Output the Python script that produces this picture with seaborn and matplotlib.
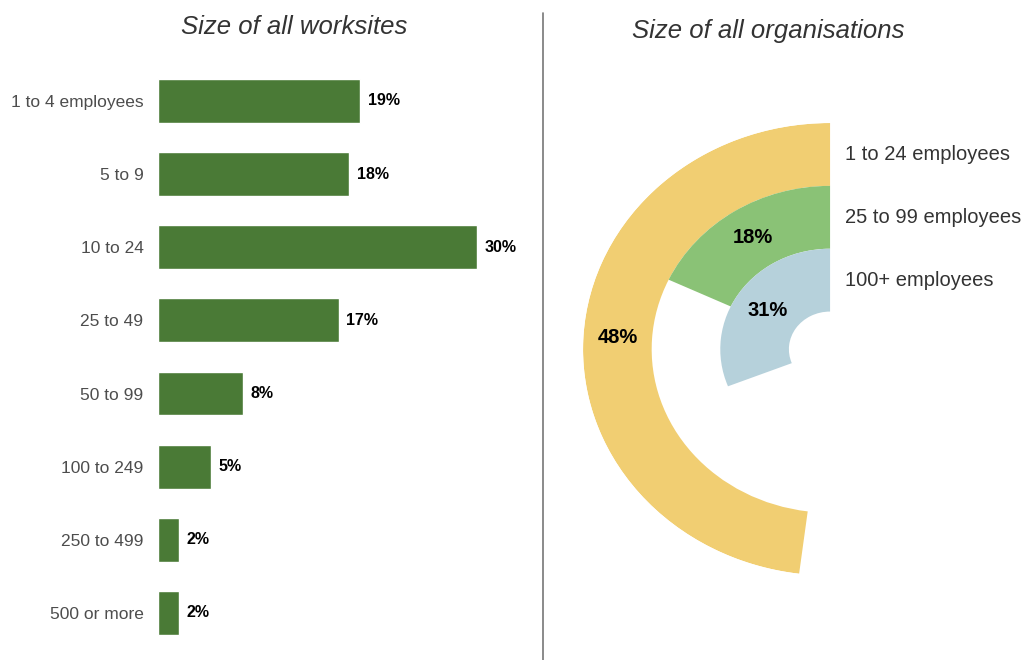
import numpy as np
import pandas as pd
import seaborn as sns
import matplotlib.pyplot as plt
from matplotlib.lines import Line2D

# Data
worksite_sizes = ['1 to 4 employees', '5 to 9', '10 to 24', '25 to 49',
                  '50 to 99', '100 to 249', '250 to 499', '500 or more']
worksite_pct = [19, 18, 30, 17, 8, 5, 2, 2]

org_sizes = ['1 to 24 employees', '25 to 99 employees', '100+ employees']
org_pct = [48, 18, 31]
org_colors = ['#F1CE72', '#8AC276', '#B6D1DB']

sns.set_style('white')
plt.rcParams['font.family'] = ['Liberation Sans', 'DejaVu Sans']

fig = plt.figure(figsize=(10.22, 6.6), dpi=100)

# Left: horizontal bars of worksite size
df_ws = pd.DataFrame({'size': worksite_sizes, 'pct': worksite_pct})
ax1 = fig.add_axes([0.1546, 0.0158, 0.3537, 0.8867])
sns.barplot(data=df_ws, x='pct', y='size', orient='h', color='#4A7A36',
            saturation=1, width=0.6, ax=ax1)
ax1.set_xlim(0, 34)
ax1.bar_label(ax1.containers[0], labels=[f'{v}%' for v in worksite_pct],
              padding=5.5, fontsize=11.5, fontweight='bold', color='black')
ax1.set_xlabel('')
ax1.set_ylabel('')
ax1.set_xticks([])
ax1.tick_params(axis='y', length=0, pad=10.5, labelsize=12.5, labelcolor='#4D4D4D')
sns.despine(ax=ax1, left=True, bottom=True)

# Right: radial bars of organisation size
ax2 = fig.add_axes([0.5705, 0.128, 0.4834, 0.6856], projection='polar')
ax2.set_aspect('auto')
ax2.set_theta_zero_location('N')
ax2.set_theta_direction(1)
hole = 0.6
n = len(org_pct)
for i, (lab, p, c) in enumerate(zip(org_sizes, org_pct, org_colors)):
    base = hole + (n - 1 - i)
    width = p / 100 * 2 * np.pi
    ax2.bar(0, 1, width=width, bottom=base, align='edge', color=c, linewidth=0)
    ax2.text(width / 2, base + 0.5, f'{p}%', ha='center', va='center',
             fontsize=14.5, fontweight='bold', color='black')
    ax2.annotate(lab, xy=(0, base + 0.5), xytext=(11, 0), textcoords='offset points',
                 ha='left', va='center', fontsize=14.5, color='#333333',
                 annotation_clip=False)
ax2.set_ylim(0, hole + n)
ax2.axis('off')

# Titles and divider
fig.text(294 / 1022, 1 - 27 / 660, 'Size of all worksites', ha='center', va='center',
         fontsize=18.5, style='italic', color='#333333')
fig.text(768 / 1022, 1 - 31 / 660, 'Size of all organisations', ha='center', va='center',
         fontsize=18.5, style='italic', color='#333333')
fig.add_artist(Line2D([543 / 1022, 543 / 1022], [0, 1 - 13 / 660],
                      transform=fig.transFigure, color='#777777', linewidth=1.2))

fig.savefig('out.png', dpi=100)
